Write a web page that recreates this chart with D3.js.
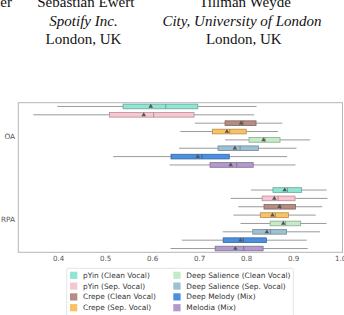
<!DOCTYPE html>
<html>
<head>
<meta charset="utf-8">
<script src="https://cdn.jsdelivr.net/npm/d3@7"></script>
<style>
  body { margin: 0; background: #fff; }
  svg { display: block; }
</style>
</head>
<body>
<div id="chart"></div>
<script>
// data
const groups = ["OA", "RPA"];
const methods = [
    "pYin (Clean Vocal)", "pYin (Sep. Vocal)", "Crepe (Clean Vocal)", "Crepe (Sep. Vocal)",
    "Deep Salience (Clean Vocal)", "Deep Salience (Sep. Vocal)", "Deep Melody (Mix)", "Melodia (Mix)"
];
const colors = ["#8ee6d3", "#f8c6d0", "#b48c82", "#f9c266", "#c4eac6", "#9fc0d2", "#4b8fe0", "#b29bcc"];
const xTicks = [0.4, 0.5, 0.6, 0.7, 0.8, 0.9, 1.0];

const oaLow    = [0.398, 0.347, 0.691, 0.660, 0.755, 0.657, 0.517, 0.637];
const oaQ1     = [0.538, 0.509, 0.755, 0.728, 0.806, 0.740, 0.640, 0.723];
const oaMedian = [0.629, 0.603, 0.793, 0.765, 0.840, 0.787, 0.706, 0.780];
const oaMean   = [0.597, 0.582, 0.789, 0.759, 0.837, 0.776, 0.697, 0.767];
const oaQ3     = [0.697, 0.689, 0.821, 0.800, 0.872, 0.826, 0.764, 0.815];
const oaHigh   = [0.822, 0.817, 0.877, 0.868, 0.936, 0.907, 0.887, 0.905];

const rpaLow    = [0.810, 0.767, 0.783, 0.773, 0.788, 0.750, 0.663, 0.639];
const rpaQ1     = [0.857, 0.834, 0.838, 0.830, 0.851, 0.814, 0.751, 0.734];
const rpaMedian = [0.888, 0.868, 0.873, 0.862, 0.884, 0.852, 0.794, 0.795];
const rpaMean   = [0.882, 0.860, 0.871, 0.856, 0.879, 0.844, 0.788, 0.777];
const rpaQ3     = [0.918, 0.904, 0.905, 0.890, 0.916, 0.886, 0.843, 0.836];
const rpaHigh   = [0.971, 0.973, 0.962, 0.948, 0.971, 0.957, 0.929, 0.931];

const width = 344;
const height = 315;
const frame = {left: 18.3, right: 342.5, top: 102.7, bottom: 252.3};

const svg = d3.select("#chart")
    .append("svg")
    .attr("width", width)
    .attr("height", height);

// paper header above the figure (author block)
const header = svg.append("g")
    .style("font-family", "'Liberation Serif', 'Times New Roman', serif")
    .style("font-size", "15px")
    .attr("fill", "#111")
    .attr("text-anchor", "middle");

header.append("text").attr("x", 12).attr("y", 7.4).attr("text-anchor", "end").text("er");
header.append("text").attr("x", 85.8).attr("y", 7.4).text("Sebastian Ewert");
header.append("text").attr("x", 83.5).attr("y", 25.8).style("font-style", "italic").text("Spotify Inc.");
header.append("text").attr("x", 83.5).attr("y", 44.2).text("London, UK");
header.append("text").attr("x", 245).attr("y", 7.4).text("Tillman Weyde");
header.append("text").attr("x", 242).attr("y", 25.8).style("font-style", "italic").text("City, University of London");
header.append("text").attr("x", 243.8).attr("y", 44.2).text("London, UK");

// scales
const x = d3.scaleLinear()
    .domain([0.315, 1.005])
    .range([frame.left, frame.right]);

const y = d3.scaleLinear()
    .domain([-0.395, 1.395])
    .range([frame.top, frame.bottom]);

// build rows from the arrays
const rows = [];
const stats = [
    [oaLow, oaQ1, oaMedian, oaMean, oaQ3, oaHigh],
    [rpaLow, rpaQ1, rpaMedian, rpaMean, rpaQ3, rpaHigh]
];
groups.forEach((g, gi) => {
    methods.forEach((m, i) => {
        const s = stats[gi];
        rows.push({
            group: g, method: m, color: colors[i],
            pos: gi + (i - 3.5) * 0.1,
            low: s[0][i], q1: s[1][i], median: s[2][i], mean: s[3][i], q3: s[4][i], high: s[5][i]
        });
    });
});

const boxH = (y(0.1) - y(0)) * 0.56;

// x tick labels
svg.append("g")
    .attr("transform", `translate(0,${frame.bottom})`)
    .call(d3.axisBottom(x).tickValues(xTicks).tickSize(0).tickPadding(4).tickFormat(d3.format(".1f")))
    .call(g => g.select(".domain").remove())
    .selectAll("text")
    .attr("fill", "#555")
    .style("font-family", "'DejaVu Sans', sans-serif")
    .style("font-size", "7.1px");

// y tick labels
svg.append("g")
    .attr("transform", `translate(${frame.left},0)`)
    .call(d3.axisLeft(y).tickValues([0, 1]).tickSize(0).tickPadding(3.3).tickFormat(d => groups[d]))
    .call(g => g.select(".domain").remove())
    .selectAll("text")
    .attr("fill", "#555")
    .style("font-family", "'DejaVu Sans', sans-serif")
    .style("font-size", "7.3px");

// boxes
const box = svg.append("g")
    .selectAll("g")
    .data(rows)
    .enter()
    .append("g");

box.append("line")
    .attr("x1", d => x(d.low))
    .attr("x2", d => x(d.high))
    .attr("y1", d => y(d.pos))
    .attr("y2", d => y(d.pos))
    .attr("stroke", "#9a9a9a")
    .attr("stroke-width", 1);

box.append("rect")
    .attr("x", d => x(d.q1))
    .attr("y", d => y(d.pos) - boxH / 2)
    .attr("width", d => x(d.q3) - x(d.q1))
    .attr("height", boxH)
    .attr("fill", d => d.color)
    .attr("stroke", d => d3.color(d.color).darker(0.9))
    .attr("stroke-width", 0.8);

box.append("line")
    .attr("x1", d => x(d.median))
    .attr("x2", d => x(d.median))
    .attr("y1", d => y(d.pos) - boxH / 2)
    .attr("y2", d => y(d.pos) + boxH / 2)
    .attr("stroke", d => d3.color(d.color).darker(1.2))
    .attr("stroke-width", 0.8);

box.append("path")
    .attr("transform", d => `translate(${x(d.mean)},${y(d.pos)})`)
    .attr("d", d3.symbol(d3.symbolTriangle, 9))
    .attr("fill", "#555");

// frame
svg.append("rect")
    .attr("x", frame.left)
    .attr("y", frame.top)
    .attr("width", frame.right - frame.left)
    .attr("height", frame.bottom - frame.top)
    .attr("fill", "none")
    .attr("stroke", "#b5b5b5")
    .attr("stroke-width", 1);

// legend
const legend = svg.append("g");
legend.append("rect")
    .attr("x", 66.7)
    .attr("y", 268.3)
    .attr("width", 293.3 - 66.7)
    .attr("height", 48)
    .attr("fill", "#fff")
    .attr("stroke", "#dcdcdc")
    .attr("stroke-width", 0.8)
    .attr("rx", 1.5);

const item = legend.selectAll("g.item")
    .data(methods)
    .enter()
    .append("g")
    .attr("class", "item")
    .attr("transform", (d, i) => `translate(${i < 4 ? 70 : 173.3},${275.3 + (i % 4) * 10.8})`);

item.append("rect")
    .attr("x", 0)
    .attr("y", -3.6)
    .attr("width", 7.3)
    .attr("height", 7.2)
    .attr("fill", (d, i) => colors[i]);

item.append("text")
    .attr("x", 13)
    .attr("y", 0)
    .attr("dy", "0.35em")
    .attr("fill", "#333")
    .style("font-family", "'DejaVu Sans', sans-serif")
    .style("font-size", "7.4px")
    .text(d => d);
</script>
</body>
</html>
